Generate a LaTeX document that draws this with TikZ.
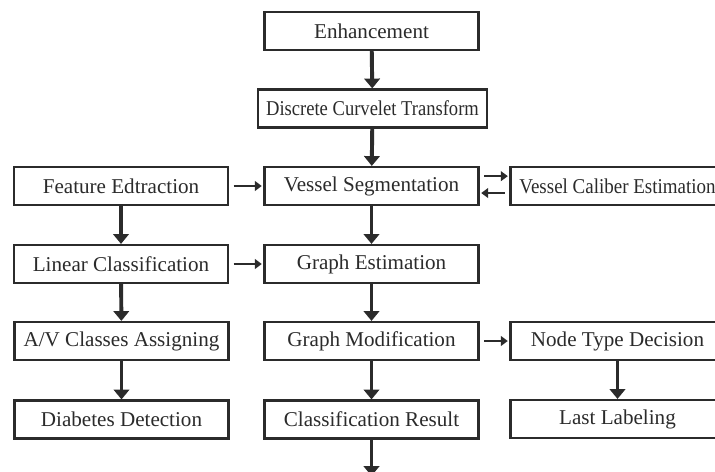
\documentclass[tikz,border=0pt]{standalone}
\usepackage{fontspec}
\setmainfont{Liberation Serif}
\usetikzlibrary{arrows.meta}
\definecolor{boxline}{HTML}{2B2B2B}
\newcommand{\narrow}[2]{\scalebox{#1}[1]{#2}}
\begin{document}
\begin{tikzpicture}[x=0.025cm, y=-0.025cm, font=\fontsize{15}{18}\selectfont]
    \tikzstyle{box_style} = [draw=boxline, line width=1.8pt, rectangle, fill=white, text=boxline, minimum width=5.35cm, minimum height=0.94cm, inner sep=0pt]
    \tikzstyle{arrow_down} = [-{Triangle[width=11pt, length=7pt]}, boxline, line width=2.8pt]
    \tikzstyle{arrow_side} = [-{Triangle[width=7pt, length=5pt]}, boxline, line width=1.8pt, shorten <=3pt, shorten >=1pt]

    \useasboundingbox (0,0) rectangle (715,472);

    % middle column
    \node[box_style] (enh) at (371.5,31) {Enhancement};
    \node[box_style, minimum width=5.72cm] (dct) at (372.5,108.5) {\narrow{0.88}{Discrete Curvelet Transform}};
    \node[box_style] (seg) at (371.5,186) {Vessel Segmentation};
    \node[box_style] (gest) at (371.5,264) {Graph Estimation};
    \node[box_style] (gmod) at (371.5,341) {Graph Modification};
    \node[box_style] (res) at (371.5,419.5) {Classification Result};
    \coordinate (out) at (371.5,476);

    % left column
    \node[box_style] (feat) at (121,186) {Feature Edtraction};
    \node[box_style] (lin) at (121,264) {Linear Classification};
    \node[box_style] (assign) at (121.5,341) {A/V Classes Assigning};
    \node[box_style] (diab) at (121.5,419.5) {Diabetes Detection};

    % right column
    \node[box_style] (cal) at (617.5,186) {\narrow{0.9}{Vessel Caliber Estimation}};
    \node[box_style] (ntype) at (617.5,341) {Node Type Decision};
    \node[box_style] (last) at (617.5,419) {Last Labeling};

    \draw[arrow_down] (enh) -- (dct);
    \draw[arrow_down] (dct) -- (seg);
    \draw[arrow_down] (seg) -- (gest);
    \draw[arrow_down] (gest) -- (gmod);
    \draw[arrow_down] (gmod) -- (res);
    \draw[arrow_down] (res) -- (out);
    \draw[arrow_down] (feat) -- (lin);
    \draw[arrow_down] (lin) -- (assign);
    \draw[arrow_down] (assign) -- (diab);
    \draw[arrow_down] (ntype) -- (last);

    \draw[arrow_side] (feat) -- (seg);
    \draw[arrow_side] (lin) -- (gest);
    \draw[arrow_side] (gmod) -- (ntype);
    \draw[arrow_side] ([yshift=7pt]seg.east) -- ([yshift=7pt]cal.west);
    \draw[arrow_side] ([yshift=-5pt]cal.west) -- ([yshift=-5pt]seg.east);
\end{tikzpicture}
\end{document}
